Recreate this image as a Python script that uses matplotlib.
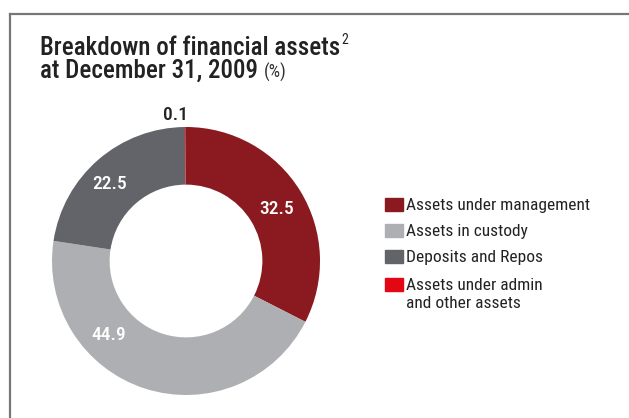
import matplotlib
matplotlib.use("Agg")
import matplotlib.pyplot as plt
import numpy as np
from matplotlib.patches import Rectangle
from matplotlib.lines import Line2D
from matplotlib import font_manager

# Condensed grotesque faces: medium for headings/values, regular for the key
cands = {}
for f in font_manager.fontManager.ttflist:
    base = f.fname.split("/")[-1].lower()
    if ("narrow" in base or "condensed" in base) and "italic" not in base \
            and "oblique" not in base:
        cands[base] = f.fname

def pick(words):
    for w in words:
        for base, path in sorted(cands.items()):
            if w in base:
                return path
    return None

medium_path = pick(["robotocondensed-medium", "robotocondensed-regular",
                    "liberationsansnarrow-regular", "condensed-medium", "condensed"])
regular_path = pick(["robotocondensed-regular", "liberationsansnarrow-regular",
                     "condensed-regular", "condensed"])
SCALE = 1.0 if medium_path else 0.85

def tp(size, heavy=True):
    path = medium_path if heavy else (regular_path or medium_path)
    if path:
        return font_manager.FontProperties(fname=path, size=size * SCALE)
    return font_manager.FontProperties(family=["Liberation Sans"], size=size * SCALE)

categories = ["Assets under management", "Assets in custody",
              "Deposits and Repos", "Assets under admin\nand other assets"]
values = [32.5, 44.9, 22.5, 0.1]
colors = ["#8A1A20", "#AEAFB2", "#636469", "#E30613"]
label_colors = ["white", "white", "white", "#222222"]
# value label placement: (angle in degrees, radius as fraction of outer radius)
label_pos = [(30, 0.78), (-136, 0.80), (134.5, 0.81), (94, 1.09)]

W, H = 629, 418
fig = plt.figure(figsize=(W / 100, H / 100), dpi=100)

def fx(px):
    return px / W

def fy(py):
    return 1 - py / H

# frame lines (top and left)
fig.add_artist(Line2D([fx(10), fx(629)], [fy(13.5), fy(13.5)], color="#777777", lw=1.6))
fig.add_artist(Line2D([fx(10), fx(10)], [fy(13.5), fy(418)], color="#777777", lw=1.6))

# title
t1 = fig.text(fx(40), fy(55), "Breakdown of financial assets", fontproperties=tp(18),
              color="#222222", ha="left", va="baseline")
fig.canvas.draw()
bb = t1.get_window_extent()
fig.text(bb.x1 / W + fx(1), fy(44), "2", fontproperties=tp(10, False), color="#222222",
         ha="left", va="baseline")
t2 = fig.text(fx(40), fy(78), "at December 31, 2009", fontproperties=tp(18),
              color="#222222", ha="left", va="baseline")
fig.canvas.draw()
bb2 = t2.get_window_extent()
fig.text(bb2.x1 / W + fx(6), fy(78), "(%)", fontproperties=tp(13, False), color="#333333",
         ha="left", va="baseline")

# donut
cx, cy, r = 186, 261, 134
ax = fig.add_axes([fx(cx - r), fy(cy + r), 2 * r / W, 2 * r / H])
wedges, _ = ax.pie(values, colors=colors, startangle=90, counterclock=False,
                   radius=1.0, wedgeprops=dict(width=0.43, edgecolor="none"))
ax.set_xlim(-1, 1)
ax.set_ylim(-1, 1)
ax.set_aspect("auto")
ax.axis("off")

for v, c, (ang, rr) in zip(values, label_colors, label_pos):
    a = np.deg2rad(ang)
    ax.text(np.cos(a) * rr, np.sin(a) * rr, f"{v:.1f}", ha="center",
            va="center", fontproperties=tp(14), color=c, clip_on=False)

# legend
rows = [204, 230, 256, 284]
for c, label, y in zip(colors, categories, rows):
    fig.add_artist(Rectangle((fx(385), fy(y + 6.5)), 18 / W, 13 / H,
                             transform=fig.transFigure, color=c))
    for k, line in enumerate(label.split("\n")):
        fig.text(fx(406), fy(y + 6 + 18 * k), line, fontproperties=tp(12.5, False),
                 color="#222222", ha="left", va="baseline")

fig.savefig("out.png", dpi=100)
